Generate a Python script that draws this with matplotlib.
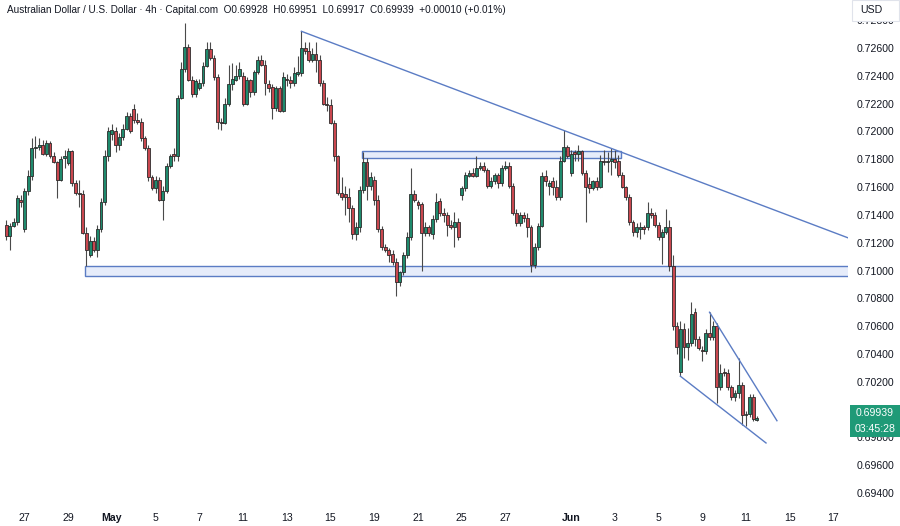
import matplotlib.pyplot as plt
import numpy as np
from matplotlib.patches import Rectangle

# 4h AUD/USD candles (index 0 = first visible bar)
opens = [
    0.7133, 0.7125, 0.7132, 0.7135, 0.7151, 0.7130, 0.7157, 0.7168, 0.7188, 0.7189,
    0.7190, 0.7184, 0.7192, 0.7182, 0.7178, 0.7165, 0.7181, 0.7177, 0.7186, 0.7163,
    0.7156, 0.7155, 0.7127, 0.7111, 0.7121, 0.7115, 0.7130, 0.7149, 0.7182, 0.7198,
    0.7200, 0.7190, 0.7196, 0.7202, 0.7211, 0.7216, 0.7208, 0.7207, 0.7195, 0.7188,
    0.7167, 0.7159, 0.7165, 0.7151, 0.7157, 0.7175, 0.7184, 0.7182, 0.7224, 0.7245,
    0.7261, 0.7237, 0.7227, 0.7231, 0.7235, 0.7247, 0.7259, 0.7253, 0.7239, 0.7207,
    0.7206, 0.7220, 0.7234, 0.7237, 0.7240, 0.7240, 0.7220, 0.7237, 0.7228, 0.7243,
    0.7251, 0.7248, 0.7234, 0.7232, 0.7217, 0.7231, 0.7215, 0.7238, 0.7237, 0.7235,
    0.7241, 0.7242, 0.7260, 0.7258, 0.7251, 0.7256, 0.7251, 0.7235, 0.7220, 0.7219,
    0.7206, 0.7182, 0.7156, 0.7155, 0.7153, 0.7145, 0.7126, 0.7131, 0.7158, 0.7178,
    0.7161, 0.7165, 0.7151, 0.7130, 0.7117, 0.7115, 0.7112, 0.7106, 0.7092, 0.7099,
    0.7111, 0.7124, 0.7155, 0.7149, 0.7148, 0.7127, 0.7131, 0.7126, 0.7137, 0.7150,
    0.7141, 0.7140, 0.7133, 0.7131, 0.7135, 0.7154, 0.7159, 0.7168, 0.7170, 0.7168,
    0.7174, 0.7175, 0.7172, 0.7161, 0.7164, 0.7169, 0.7163, 0.7174, 0.7175, 0.7161,
    0.7141, 0.7134, 0.7140, 0.7138, 0.7131, 0.7104, 0.7117, 0.7132, 0.7168, 0.7161,
    0.7164, 0.7160, 0.7153, 0.7179, 0.7189, 0.7170, 0.7185, 0.7184, 0.7186, 0.7170,
    0.7162, 0.7159, 0.7164, 0.7160, 0.7179, 0.7178, 0.7179, 0.7180, 0.7179, 0.7169,
    0.7160, 0.7153, 0.7135, 0.7128, 0.7130, 0.7131, 0.7131, 0.7141, 0.7140, 0.7133,
    0.7124, 0.7128, 0.7131, 0.7103, 0.7060, 0.7027, 0.7058, 0.7045, 0.7048, 0.7070,
    0.7051, 0.7043, 0.7042, 0.7055, 0.7052, 0.7060, 0.7016, 0.7027, 0.7026, 0.7016,
    0.7009, 0.7012, 0.7018, 0.6996, 0.6997, 0.7009, 0.69928,
]
highs = [
    0.7136, 0.7134, 0.7138, 0.7154, 0.7154, 0.7159, 0.7172, 0.7195, 0.7197, 0.7195,
    0.7194, 0.7194, 0.7193, 0.7185, 0.7179, 0.7182, 0.7187, 0.7188, 0.7187, 0.7165,
    0.7165, 0.7158, 0.7131, 0.7125, 0.7124, 0.7133, 0.7152, 0.7187, 0.7203, 0.7205,
    0.7203, 0.7199, 0.7205, 0.7214, 0.7213, 0.7220, 0.7213, 0.7210, 0.7197, 0.7190,
    0.7169, 0.7168, 0.7167, 0.7161, 0.7177, 0.7184, 0.7188, 0.7226, 0.7250, 0.7278,
    0.7263, 0.7240, 0.7238, 0.7238, 0.7250, 0.7264, 0.7264, 0.7255, 0.7241, 0.7210,
    0.7224, 0.7248, 0.7249, 0.7248, 0.7250, 0.7243, 0.7239, 0.7238, 0.7244, 0.7254,
    0.7255, 0.7251, 0.7237, 0.7234, 0.7233, 0.7233, 0.7243, 0.7241, 0.7240, 0.7246,
    0.7254, 0.7272, 0.7264, 0.7264, 0.7260, 0.7264, 0.7255, 0.7237, 0.7225, 0.7223,
    0.7208, 0.7183, 0.7167, 0.7161, 0.7159, 0.7147, 0.7135, 0.7161, 0.7185, 0.7181,
    0.7171, 0.7168, 0.7154, 0.7132, 0.7119, 0.7116, 0.7115, 0.7109, 0.7100, 0.7113,
    0.7128, 0.7174, 0.7158, 0.7151, 0.7149, 0.7135, 0.7133, 0.7140, 0.7156, 0.7152,
    0.7145, 0.7142, 0.7136, 0.7142, 0.7138, 0.7161, 0.7171, 0.7172, 0.7174, 0.7182,
    0.7178, 0.7178, 0.7174, 0.7167, 0.7170, 0.7170, 0.7176, 0.7179, 0.7178, 0.7163,
    0.7144, 0.7142, 0.7142, 0.7141, 0.7133, 0.7120, 0.7134, 0.7171, 0.7172, 0.7165,
    0.7167, 0.7165, 0.7182, 0.7201, 0.7190, 0.7187, 0.7187, 0.7190, 0.7187, 0.7172,
    0.7167, 0.7165, 0.7167, 0.7183, 0.7187, 0.7185, 0.7188, 0.7187, 0.7183, 0.7171,
    0.7161, 0.7155, 0.7136, 0.7134, 0.7135, 0.7133, 0.7149, 0.7145, 0.7142, 0.7135,
    0.7130, 0.7144, 0.7136, 0.7111, 0.7063, 0.7064, 0.7062, 0.7059, 0.7077, 0.7073,
    0.7053, 0.7046, 0.7058, 0.7070, 0.7064, 0.7062, 0.7033, 0.7030, 0.7029, 0.7018,
    0.7014, 0.7037, 0.7020, 0.6999, 0.7011, 0.7011, 0.69951,
]
lows = [
    0.7122, 0.7115, 0.7131, 0.7133, 0.7146, 0.7128, 0.7154, 0.7165, 0.7181, 0.7187,
    0.7183, 0.7182, 0.7181, 0.7177, 0.7152, 0.7164, 0.7174, 0.7176, 0.7161, 0.7154,
    0.7146, 0.7126, 0.7103, 0.7110, 0.7113, 0.7110, 0.7128, 0.7147, 0.7179, 0.7194,
    0.7185, 0.7187, 0.7194, 0.7201, 0.7199, 0.7206, 0.7205, 0.7193, 0.7187, 0.7164,
    0.7158, 0.7156, 0.7150, 0.7136, 0.7156, 0.7174, 0.7179, 0.7179, 0.7223, 0.7243,
    0.7236, 0.7225, 0.7225, 0.7230, 0.7233, 0.7246, 0.7251, 0.7237, 0.7202, 0.7201,
    0.7205, 0.7218, 0.7230, 0.7236, 0.7238, 0.7218, 0.7219, 0.7225, 0.7226, 0.7241,
    0.7247, 0.7226, 0.7228, 0.7209, 0.7215, 0.7214, 0.7214, 0.7233, 0.7231, 0.7233,
    0.7240, 0.7240, 0.7256, 0.7250, 0.7250, 0.7243, 0.7233, 0.7219, 0.7215, 0.7205,
    0.7179, 0.7154, 0.7151, 0.7140, 0.7135, 0.7123, 0.7122, 0.7128, 0.7156, 0.7151,
    0.7158, 0.7147, 0.7128, 0.7115, 0.7113, 0.7106, 0.7104, 0.7082, 0.7089, 0.7097,
    0.7109, 0.7122, 0.7149, 0.7144, 0.7100, 0.7125, 0.7125, 0.7123, 0.7135, 0.7139,
    0.7135, 0.7125, 0.7130, 0.7117, 0.7122, 0.7151, 0.7157, 0.7167, 0.7167, 0.7167,
    0.7172, 0.7171, 0.7159, 0.7159, 0.7162, 0.7159, 0.7161, 0.7172, 0.7159, 0.7140,
    0.7132, 0.7132, 0.7135, 0.7124, 0.7099, 0.7102, 0.7115, 0.7131, 0.7161, 0.7154,
    0.7154, 0.7151, 0.7151, 0.7178, 0.7181, 0.7168, 0.7179, 0.7179, 0.7169, 0.7135,
    0.7156, 0.7158, 0.7158, 0.7159, 0.7176, 0.7171, 0.7169, 0.7174, 0.7167, 0.7159,
    0.7151, 0.7133, 0.7125, 0.7124, 0.7123, 0.7126, 0.7129, 0.7138, 0.7131, 0.7122,
    0.7105, 0.7126, 0.7100, 0.7057, 0.7040, 0.7024, 0.7037, 0.7036, 0.7046, 0.7046,
    0.7043, 0.7035, 0.7040, 0.7050, 0.7050, 0.7005, 0.7014, 0.7024, 0.7014, 0.7007,
    0.7006, 0.7008, 0.6989, 0.6988, 0.6995, 0.6992, 0.69917,
]
closes = [
    0.7125, 0.7132, 0.7135, 0.7152, 0.7149, 0.7157, 0.7168, 0.7188, 0.7189, 0.7190,
    0.7184, 0.7192, 0.7182, 0.7178, 0.7165, 0.7180, 0.7182, 0.7186, 0.7163, 0.7156,
    0.7155, 0.7127, 0.7115, 0.7121, 0.7115, 0.7130, 0.7149, 0.7182, 0.7200, 0.7201,
    0.7190, 0.7196, 0.7202, 0.7211, 0.7200, 0.7208, 0.7207, 0.7195, 0.7188, 0.7167,
    0.7159, 0.7165, 0.7151, 0.7157, 0.7175, 0.7182, 0.7182, 0.7224, 0.7245, 0.7261,
    0.7237, 0.7227, 0.7236, 0.7235, 0.7247, 0.7259, 0.7253, 0.7239, 0.7207, 0.7206,
    0.7220, 0.7234, 0.7238, 0.7240, 0.7245, 0.7220, 0.7237, 0.7228, 0.7243, 0.7251,
    0.7248, 0.7235, 0.7231, 0.7217, 0.7231, 0.7215, 0.7239, 0.7237, 0.7235, 0.7242,
    0.7243, 0.7260, 0.7258, 0.7251, 0.7256, 0.7251, 0.7235, 0.7220, 0.7219, 0.7206,
    0.7182, 0.7156, 0.7153, 0.7153, 0.7145, 0.7126, 0.7131, 0.7158, 0.7178, 0.7161,
    0.7167, 0.7151, 0.7130, 0.7117, 0.7115, 0.7111, 0.7106, 0.7092, 0.7099, 0.7111,
    0.7124, 0.7155, 0.7151, 0.7147, 0.7127, 0.7131, 0.7127, 0.7137, 0.7149, 0.7141,
    0.7140, 0.7133, 0.7131, 0.7135, 0.7124, 0.7159, 0.7169, 0.7170, 0.7168, 0.7174,
    0.7175, 0.7172, 0.7161, 0.7164, 0.7169, 0.7163, 0.7174, 0.7175, 0.7161, 0.7141,
    0.7134, 0.7140, 0.7138, 0.7131, 0.7104, 0.7117, 0.7132, 0.7168, 0.7164, 0.7163,
    0.7160, 0.7153, 0.7179, 0.7189, 0.7182, 0.7184, 0.7184, 0.7186, 0.7170, 0.7160,
    0.7159, 0.7164, 0.7160, 0.7179, 0.7178, 0.7179, 0.7180, 0.7178, 0.7169, 0.7160,
    0.7153, 0.7135, 0.7128, 0.7131, 0.7131, 0.7130, 0.7141, 0.7140, 0.7133, 0.7124,
    0.7128, 0.7131, 0.7103, 0.7060, 0.7045, 0.7058, 0.7045, 0.7048, 0.7069, 0.7051,
    0.7044, 0.7042, 0.7055, 0.7052, 0.7060, 0.7016, 0.7026, 0.7026, 0.7016, 0.7009,
    0.7012, 0.7018, 0.6996, 0.6997, 0.7009, 0.6993, 0.69939,
]

# first bar of each labelled day
day_idx = [5, 17, 29, 41, 53, 65, 77, 89, 101, 113, 125, 137, 155, 167, 179, 191, 203, 215, 227]
day_lbl = ['27', '29', 'May', '5', '7', '11', '13', '15', '19', '21', '25', '27',
           'Jun', '3', '5', '9', '11', '15', '17']

price_ticks = [0.694, 0.696, 0.698, 0.700, 0.702, 0.704, 0.706, 0.708, 0.710,
               0.712, 0.714, 0.716, 0.718, 0.720, 0.722, 0.724, 0.726, 0.728]

# drawings (bar index, price)
trend_x, trend_y = [81, 231.5], [0.7272, 0.7123]
wedge_hi_x, wedge_hi_y = [193, 211.5], [0.7070, 0.6992]
wedge_lo_x, wedge_lo_y = [185, 208.5], [0.7024, 0.6976]
zone_top = (97.5, 168.6, 0.7181, 0.7186)
zone_bottom = (21.5, 232.0, 0.7096, 0.7103)

header = ("Australian Dollar / U.S. Dollar \u00b7 4h \u00b7 Capital.com  "
          "O0.69928  H0.69951  L0.69917  C0.69939  +0.00010 (+0.01%)")
countdown = "03:45:28"

UP, DOWN, EDGE = '#1f8a6d', '#c9474f', '#2b2b2b'
LINE, ZONE = '#5b7cc4', '#e6ecfa'
TXT = '#131722'
plt.rcParams['font.family'] = ['Liberation Sans', 'DejaVu Sans']

o, h, l, c = map(np.array, (opens, highs, lows, closes))
idx = np.arange(len(o))
up = c >= o

fig = plt.figure(figsize=(9, 5.26), dpi=100)
ax = fig.add_axes([0, 21 / 526, 848 / 900, 505 / 526])

ax.vlines(idx, l, h, color='#4a4a4a', lw=0.8, zorder=2)
ax.bar(idx, np.maximum(np.abs(c - o), 0.00002), bottom=np.minimum(o, c), width=0.8,
       color=np.where(up, UP, DOWN), edgecolor=EDGE, linewidth=0.6, zorder=3)

for x0, x1, y0, y1 in (zone_top, zone_bottom):
    ax.add_patch(Rectangle((x0, y0), x1 - x0, y1 - y0, facecolor=ZONE,
                           edgecolor=LINE, lw=1, zorder=1))

ax.plot(trend_x, trend_y, color=LINE, lw=1, zorder=4)
ax.plot(wedge_hi_x, wedge_hi_y, color=LINE, lw=1, zorder=4)
ax.plot(wedge_lo_x, wedge_lo_y, color=LINE, lw=1, zorder=4)

ax.set_xlim(-1.72, 231.0)
ax.set_ylim(0.69314, 0.72945)
for s in ax.spines.values():
    s.set_visible(False)

ax.yaxis.tick_right()
ax.set_yticks(price_ticks)
ax.set_yticklabels([f'{p:.5f}' for p in price_ticks])
ax.tick_params(axis='y', length=0, pad=6, labelsize=7.6, labelcolor=TXT)
ax.set_xticks(day_idx)
ax.set_xticklabels(day_lbl)
ax.tick_params(axis='x', length=0, pad=6, labelsize=7.6, labelcolor=TXT)
for t in ax.get_xticklabels():
    if t.get_text() in ('May', 'Jun'):
        t.set_fontweight('bold')

fig.text(7 / 900, 1 - 10 / 526, header, fontsize=7.2, color=TXT, va='center', ha='left')

# currency box top right
fig.add_artist(Rectangle((852 / 900, 1 - 21 / 526), 47 / 900, 21 / 526,
                         transform=fig.transFigure, facecolor='white',
                         edgecolor='#e0e3eb', lw=0.8, zorder=5))
fig.text(871 / 900, 1 - 10 / 526, 'USD', fontsize=7.6, color=TXT,
         ha='center', va='center', zorder=6)

# last price label
fig.add_artist(Rectangle((850 / 900, 1 - 437 / 526), 50 / 900, 32 / 526,
                         transform=fig.transFigure, facecolor='#1f9a77',
                         edgecolor='none', zorder=5))
fig.text(875 / 900, 1 - 413 / 526, f'{closes[-1]:.5f}', fontsize=7.6, color='white',
         ha='center', va='center', zorder=6)
fig.text(875 / 900, 1 - 429 / 526, countdown, fontsize=7.6, color='white',
         ha='center', va='center', zorder=6)

fig.savefig('out.png', dpi=100)
